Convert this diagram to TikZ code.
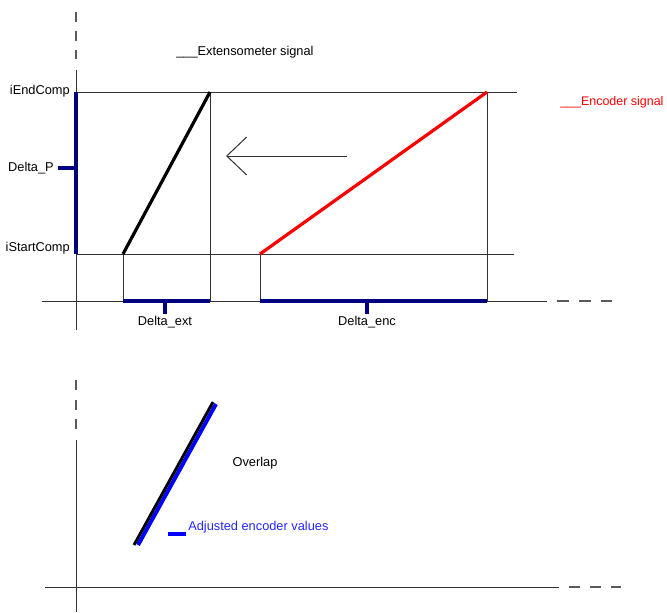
\documentclass[tikz,border=0pt]{standalone}
\usepackage{fontspec}
\setmainfont{Liberation Sans}
\usetikzlibrary{arrows.meta}
\definecolor{navy}{RGB}{0,0,128}
\definecolor{brightblue}{RGB}{0,0,255}
\definecolor{axisgray}{RGB}{50,50,50}
\definecolor{dashgray}{RGB}{90,90,90}
\begin{document}
\begin{tikzpicture}[x=0.75pt,y=-0.75pt,
  thin line/.style={draw=axisgray,line width=0.75pt},
  axis dash/.style={draw=dashgray,line width=1pt},
  navy bar/.style={draw=navy,line width=2.3pt},
  lbl/.style={font=\fontsize{9.6pt}{11pt}\selectfont,inner sep=0pt},
  sig/.style={line width=2.4pt}]
\useasboundingbox (0,0) rectangle (667,612);
% ---------- upper chart ----------
\coordinate (vtop) at (76,12);
\coordinate (vdend) at (76,60);
\coordinate (vmid) at (76,70);
\coordinate (vbot) at (76,330);
\coordinate (hleft) at (42,301);
\coordinate (hsolid) at (547,301);
\coordinate (hdstart) at (557,301);
\coordinate (hend) at (612,301);
\draw[axis dash,dash pattern=on 7.2pt off 7pt] (vtop) -- (vdend);
\draw[thin line] (vmid) -- (vbot);
\draw[thin line] (hleft) -- (hsolid);
\draw[axis dash,dash pattern=on 8.8pt off 7.7pt] (hdstart) -- (hend);
% reference lines
\coordinate (endL) at (76,92);
\coordinate (endR) at (517,92);
\coordinate (startL) at (76,254);
\coordinate (startR) at (514,254);
\draw[thin line] (endL) -- (endR);
\draw[thin line] (startL) -- (startR);
% extensometer
\coordinate (extA) at (123,254);
\coordinate (extB) at (210,92);
\coordinate (extAb) at (123,301);
\coordinate (extBb) at (210,301);
\draw[thin line] (extB) -- (extBb);
\draw[thin line] (extA) -- (extAb);
\draw[sig,black] (extA) -- (extB);
% encoder
\coordinate (encA) at (260,254);
\coordinate (encB) at (487,92);
\coordinate (encAb) at (260,301);
\coordinate (encBb) at (487,301);
\draw[thin line] (encB) -- (encBb);
\draw[thin line] (encA) -- (encAb);
\draw[sig,red] (encA) -- (encB);
% Delta bars
\draw[navy bar] (endL) -- (startL);
\coordinate (dpT) at (76,168);
\coordinate (dpL) at (58,168);
\draw[navy bar] (dpT) -- (dpL);
\draw[navy bar] (extAb) -- (extBb);
\coordinate (dxT) at (165,301);
\coordinate (dxB) at (165,314);
\draw[navy bar] (dxT) -- (dxB);
\draw[navy bar] (encAb) -- (encBb);
\coordinate (deT) at (367,301);
\coordinate (deB) at (367,314);
\draw[navy bar] (deT) -- (deB);
% arrow
\coordinate (arrTail) at (347,156);
\coordinate (arrTip) at (226,156);
\draw[thin line,-{Straight Barb[length=15pt,width=28.5pt,line width=0.75pt]}] (arrTail) -- (arrTip);
% labels
\node[lbl,anchor=east] (lEnd) at (70,91) {iEndComp};
\node[lbl,anchor=east] (lStart) at (70,248) {iStartComp};
\node[lbl,anchor=east] (lDP) at (54,168) {Delta\_P};
\node[lbl] (lDext) at (165,322) {Delta\_ext};
\node[lbl] (lDenc) at (367,322) {Delta\_enc};
\node[lbl,anchor=west] (lExt) at (176,52) {\_\_\_Extensometer signal};
\node[lbl,anchor=west,text=red,font=\fontsize{9.35pt}{11pt}\selectfont] (lEnc) at (560,102) {\_\_\_Encoder signal};
% ---------- lower chart ----------
\coordinate (v2top) at (76,380);
\coordinate (v2dend) at (76,430);
\coordinate (v2mid) at (76,440);
\coordinate (v2bot) at (76,612);
\coordinate (h2left) at (45,587);
\coordinate (h2solid) at (559,587);
\coordinate (h2dstart) at (569,587);
\coordinate (h2end) at (621,587);
\draw[axis dash,dash pattern=on 7.4pt off 7.4pt] (v2top) -- (v2dend);
\draw[thin line] (v2mid) -- (v2bot);
\draw[thin line] (h2left) -- (h2solid);
\draw[axis dash,dash pattern=on 8.4pt off 7.2pt] (h2dstart) -- (h2end);
\coordinate (ovA) at (134,545);
\coordinate (ovB) at (213,402);
\coordinate (adA) at (138,545);
\coordinate (adB) at (216,404);
\draw[sig,brightblue,line width=3pt] (adA) -- (adB);
\draw[sig,black,line width=2.2pt] (ovA) -- (ovB);
\node[lbl] (lOv) at (255,463) {Overlap};
\coordinate (legA) at (168,534);
\coordinate (legB) at (186,534);
\draw[brightblue,line width=2.6pt] (legA) -- (legB);
\node[lbl,anchor=west,text=brightblue!85!white] (lAdj) at (188,527) {Adjusted encoder values};
\end{tikzpicture}
\end{document}
